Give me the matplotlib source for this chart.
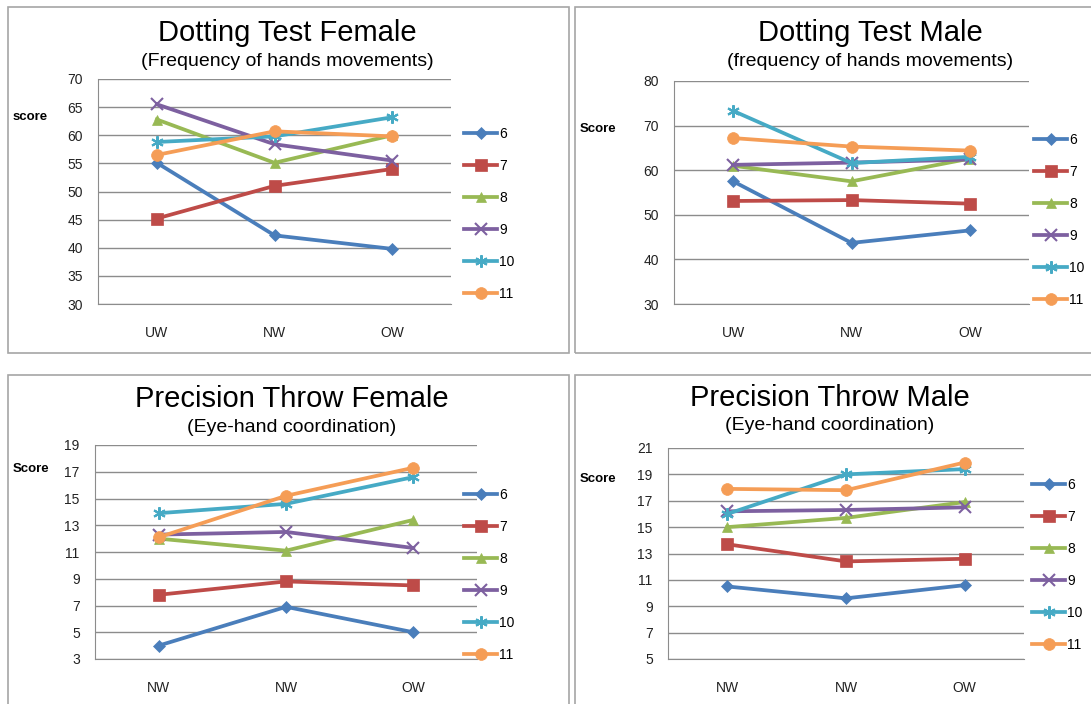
import matplotlib
matplotlib.use('Agg')
import matplotlib.pyplot as plt
from matplotlib.patches import Rectangle

plt.rcParams.update({'font.family': ['Liberation Sans', 'DejaVu Sans'], 'font.size': 10})

GROUPS = ['6', '7', '8', '9', '10', '11']
COL = ['#4A7EBB', '#BE4B48', '#98B954', '#7D60A0', '#46AAC5', '#F59D56']
MRK = ['D', 's', '^', 'x', (6, 2, 0), 'o']
MSZ = [6.5, 8, 7.5, 8, 9, 8.5]

# Dotting test female (UW, NW, OW)
dot_f_cats = ['UW', 'NW', 'OW']
dot_f = [[55.1, 42.2, 39.8],
         [45.2, 51.0, 54.0],
         [62.8, 55.1, 60.0],
         [65.5, 58.4, 55.5],
         [58.8, 59.8, 63.2],
         [56.5, 60.7, 59.8]]

# Dotting test male
dot_m_cats = ['UW', 'NW', 'OW']
dot_m = [[57.5, 43.7, 46.5],
         [53.1, 53.3, 52.5],
         [61.0, 57.5, 62.6],
         [61.2, 61.7, 62.4],
         [73.3, 61.6, 63.0],
         [67.2, 65.3, 64.4]]

# Precision throw female
thr_f_cats = ['NW', 'NW', 'OW']
thr_f = [[4.0, 6.9, 5.0],
         [7.8, 8.8, 8.5],
         [12.0, 11.1, 13.4],
         [12.3, 12.5, 11.3],
         [13.9, 14.6, 16.6],
         [12.1, 15.2, 17.3]]

# Precision throw male
thr_m_cats = ['NW', 'NW', 'OW']
thr_m = [[10.5, 9.6, 10.6],
         [13.7, 12.4, 12.6],
         [15.0, 15.7, 16.9],
         [16.2, 16.3, 16.5],
         [16.0, 19.0, 19.4],
         [17.9, 17.8, 19.9]]

W, H = 1091, 704
fig = plt.figure(figsize=(W / 100, H / 100), dpi=100)


def px_axes(l, t, r, b):
    return fig.add_axes([l / W, 1 - b / H, (r - l) / W, (b - t) / H])


def panel(box, axpx, cats, data, ylim, step, title, sub, ylab, ylab_xy, title_xy, leg_xy):
    # grey frame around each chart
    x0, y0, x1, y1 = box
    fig.patches.append(Rectangle((x0 / W, 1 - y1 / H), (x1 - x0) / W, (y1 - y0) / H,
                                 transform=fig.transFigure, fill=False, ec='#a6a6a6', lw=1.2))
    ax = px_axes(*axpx)
    xs = [0.5, 1.5, 2.5]
    for i, g in enumerate(GROUPS):
        m = MRK[i]
        ax.plot(xs, data[i], '-', color=COL[i], lw=2.7, marker=m, ms=MSZ[i],
                mew=1.5 if m in ('x', (6, 2, 0)) else 0.5, mec=COL[i], label=g)
    ax.set_xlim(0, 3)
    ax.set_ylim(*ylim)
    ax.set_yticks(range(ylim[0], ylim[1] + 1, step))
    ax.set_xticks(xs)
    ax.set_xticklabels(cats)
    ax.grid(axis='y', color='#8c8c8c', lw=1)
    ax.set_axisbelow(True)
    for s in ('top', 'right'):
        ax.spines[s].set_visible(False)
    for s in ('left', 'bottom'):
        ax.spines[s].set_color('#8c8c8c')
    ax.tick_params(length=0, labelsize=10, colors='#222222')
    ax.tick_params(axis='x', pad=16)
    ax.tick_params(axis='y', pad=11)
    fig.text(title_xy[0] / W, 1 - (title_xy[1] + 3) / H, title, ha='center', va='center', fontsize=21)
    fig.text(title_xy[0] / W, 1 - (title_xy[1] + 31) / H, sub, ha='center', va='center', fontsize=14)
    fig.text(ylab_xy[0] / W, 1 - ylab_xy[1] / H, ylab, ha='left', va='center', fontsize=9.5,
             fontweight='bold')
    lx, ly = leg_xy
    ax.legend(loc='upper left', bbox_to_anchor=(lx / W, 1 - (ly - 6) / H),
              bbox_transform=fig.transFigure,
              frameon=False, fontsize=10, handlelength=2.4, handletextpad=0.15,
              labelspacing=1.3, borderpad=0, borderaxespad=0)
    return ax


panel((8, 7, 569, 353), (98, 79, 451, 304), dot_f_cats, dot_f, (30, 70), 5,
      'Dotting Test Female', '(Frequency of hands movements)', 'score', (13, 117), (287, 30), (464, 133))
panel((575, 7, 1100, 353), (674, 81, 1029, 304), dot_m_cats, dot_m, (30, 80), 10,
      'Dotting Test Male', '(frequency of hands movements)', 'Score', (580, 129), (870, 30), (1034, 139))
panel((8, 375, 569, 720), (95, 445, 477, 659), thr_f_cats, thr_f, (3, 19), 2,
      'Precision Throw Female', '(Eye-hand coordination)', 'Score', (13, 469), (292, 396), (464, 494))
panel((575, 375, 1100, 720), (668, 448, 1024, 659), thr_m_cats, thr_m, (5, 21), 2,
      'Precision Throw Male', '(Eye-hand coordination)', 'Score', (580, 479), (830, 395), (1032, 484))

fig.savefig('out.png', dpi=100)
